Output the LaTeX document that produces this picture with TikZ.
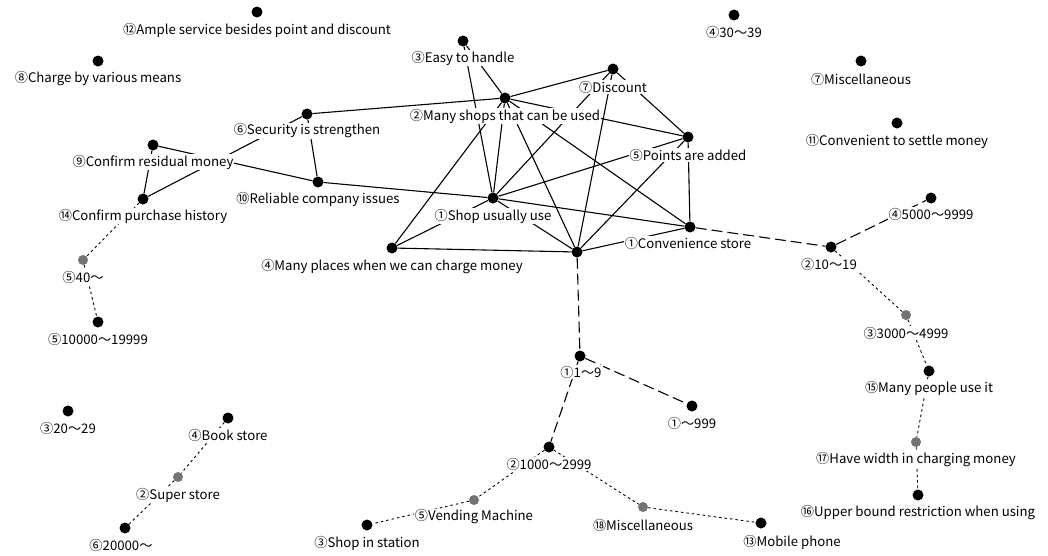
\documentclass[tikz,border=0pt]{standalone}
\usepackage{fontspec}
\setmainfont{Noto Sans CJK JP}
\usetikzlibrary{calc}

\begin{document}
\begin{tikzpicture}[x=1pt,y=-1pt,
  dot/.style={circle,fill=black,inner sep=0pt,minimum size=11pt},
  gdot/.style={circle,fill=black!55,inner sep=0pt,minimum size=10pt},
  lab/.style={fill=white,inner sep=1pt,font=\fontsize{13.2}{15}\selectfont},
  edge/.style={line width=1.1pt},
  ldash/.style={line width=1.1pt,dash pattern=on 11pt off 5pt},
  sdot/.style={line width=0.9pt,dash pattern=on 2.5pt off 3pt}]
\useasboundingbox (0,0) rectangle (1048,555);

% ---- points ----
\node[dot] (ample) at (257,12) {};
\node[dot] (charge) at (98,61) {};
\node[dot] (sec) at (307,114) {};
\node[dot] (crm) at (153,145) {};
\node[dot] (rel) at (318,182) {};
\node[dot] (cph) at (143,199) {};
\node[gdot] (n40) at (83,260) {};
\node[dot] (n10000) at (98,322) {};
\node[dot] (n20) at (68,411) {};
\node[dot] (book) at (228,418) {};
\node[gdot] (super) at (178,477) {};
\node[dot] (n20000) at (125,528) {};
\node[dot] (easy) at (463,41) {};
\node[dot] (ms) at (505,98) {};
\node[dot] (disc) at (613,69) {};
\node[dot] (pts) at (688,137) {};
\node[dot] (su) at (493,198) {};
\node[dot] (mp) at (392,248) {};
\node[dot] (hub) at (577,252) {};
\node[dot] (conv) at (690,227) {};
\node[dot] (n30) at (734,15) {};
\node[dot] (misc7) at (861,61) {};
\node[dot] (settle) at (897,123) {};
\node[dot] (n5000) at (931,198) {};
\node[dot] (n1019) at (831,247) {};
\node[gdot] (n3000) at (906,315) {};
\node[dot] (mpu) at (929,371) {};
\node[gdot] (hw) at (916,442) {};
\node[dot] (ub) at (918,495) {};
\node[dot] (n19) at (580,356) {};
\node[dot] (n999) at (692,406) {};
\node[dot] (n1000) at (549,447) {};
\node[gdot] (vend) at (474,500) {};
\node[dot] (sis) at (367,525) {};
\node[gdot] (misc18) at (643,507) {};
\node[dot] (mob) at (761,523) {};

% ---- solid links ----
\draw[edge] (sec) -- (ms);
\draw[edge] (sec) -- (rel);
\draw[edge] (sec) -- (cph);
\draw[edge] (crm) -- (rel);
\draw[edge] (crm) -- (cph);
\draw[edge] (rel) -- (su);
\draw[edge] (su) -- (conv);
\draw[edge] (easy) -- (ms);
\draw[edge] (easy) -- (su);
\draw[edge] (ms) -- (disc);
\draw[edge] (ms) -- (pts);
\draw[edge] (ms) -- (mp);
\draw[edge] (ms) -- (su);
\draw[edge] (ms) -- (hub);
\draw[edge] (ms) -- (conv);
\draw[edge] (disc) -- (pts);
\draw[edge] (disc) -- (su);
\draw[edge] (disc) -- (hub);
\draw[edge] (pts) -- (su);
\draw[edge] (pts) -- (conv);
\draw[edge] (pts) -- (hub);
\draw[edge] (hub) -- (mp);
\draw[edge] (hub) -- (su);
\draw[edge] (hub) -- (conv);
\draw[edge] (su) -- (mp);

% ---- long-dashed links ----
\draw[ldash] (hub) -- (n19);
\draw[ldash] (conv) -- (n1019);
\draw[ldash] (n1019) -- (n5000);
\draw[ldash] (n19) -- (n999);
\draw[ldash] (n19) -- (n1000);

% ---- dotted links ----
\draw[sdot] (n1019) -- (n3000);
\draw[sdot] (n3000) -- (mpu);
\draw[sdot] (mpu) -- (hw);
\draw[sdot] (hw) -- (ub);
\draw[sdot] (n1000) -- (vend);
\draw[sdot] (vend) -- (sis);
\draw[sdot] (n1000) -- (misc18);
\draw[sdot] (misc18) -- (mob);
\draw[sdot] (cph) -- (n40);
\draw[sdot] (n40) -- (n10000);
\draw[sdot] (book) -- (super);
\draw[sdot] (super) -- (n20000);

% ---- labels ----
\node[lab] at ($(ample)+(0,18)$) {⑫Ample service besides point and discount};
\node[lab] at ($(charge)+(0,18)$) {⑧Charge by various means};
\node[lab] at ($(sec)+(0,17)$) {⑥Security is strengthen};
\node[lab] at ($(crm)+(0,17)$) {⑨Confirm residual money};
\node[lab] at ($(rel)+(0,17)$) {⑩Reliable company issues};
\node[lab] at ($(cph)+(0,17)$) {⑭Confirm purchase history};
\node[lab] at ($(n40)+(0,17)$) {⑤40～};
\node[lab] at ($(n10000)+(0,17)$) {⑤10000～19999};
\node[lab] at ($(n20)+(0,17)$) {③20～29};
\node[lab] at ($(book)+(0,17)$) {④Book store};
\node[lab] at ($(super)+(0,18)$) {②Super store};
\node[lab] at ($(n20000)+(-4,17)$) {⑥20000～};
\node[lab] at ($(easy)+(0,17)$) {③Easy to handle};
\node[lab] at ($(ms)+(0,18)$) {②Many shops that can be used};
\node[lab] at ($(disc)+(0,18)$) {⑦Discount};
\node[lab] at ($(pts)+(0,18)$) {⑤Points are added};
\node[lab] at ($(su)+(0,18)$) {①Shop usually use};
\node[lab] at ($(mp)+(0,19)$) {④Many places when we can charge money};
\node[lab] at ($(conv)+(-2,16)$) {①Convenience store};
\node[lab] at ($(n30)+(0,17)$) {④30～39};
\node[lab] at ($(misc7)+(0,18)$) {⑦Miscellaneous};
\node[lab] at ($(settle)+(0,18)$) {⑪Convenient to settle money};
\node[lab] at ($(n5000)+(0,16)$) {④5000～9999};
\node[lab] at ($(n1019)+(-2,17)$) {②10～19};
\node[lab] at ($(n3000)+(0,18)$) {③3000～4999};
\node[lab] at ($(mpu)+(0,17)$) {⑮Many people use it};
\node[lab] at ($(hw)+(0,18)$) {⑰Have width in charging money};
\node[lab] at ($(ub)+(0,18)$) {⑯Upper bound restriction when using};
\node[lab] at ($(n19)+(1,16)$) {①1～9};
\node[lab] at ($(n999)+(0,17)$) {①～999};
\node[lab] at ($(n1000)+(0,17)$) {②1000～2999};
\node[lab] at ($(vend)+(0,17)$) {⑤Vending Machine};
\node[lab] at ($(sis)+(0,18)$) {③Shop in station};
\node[lab] at ($(misc18)+(0,18)$) {⑱Miscellaneous};
\node[lab] at ($(mob)+(31,19)$) {⑬Mobile phone};
\end{tikzpicture}
\end{document}
